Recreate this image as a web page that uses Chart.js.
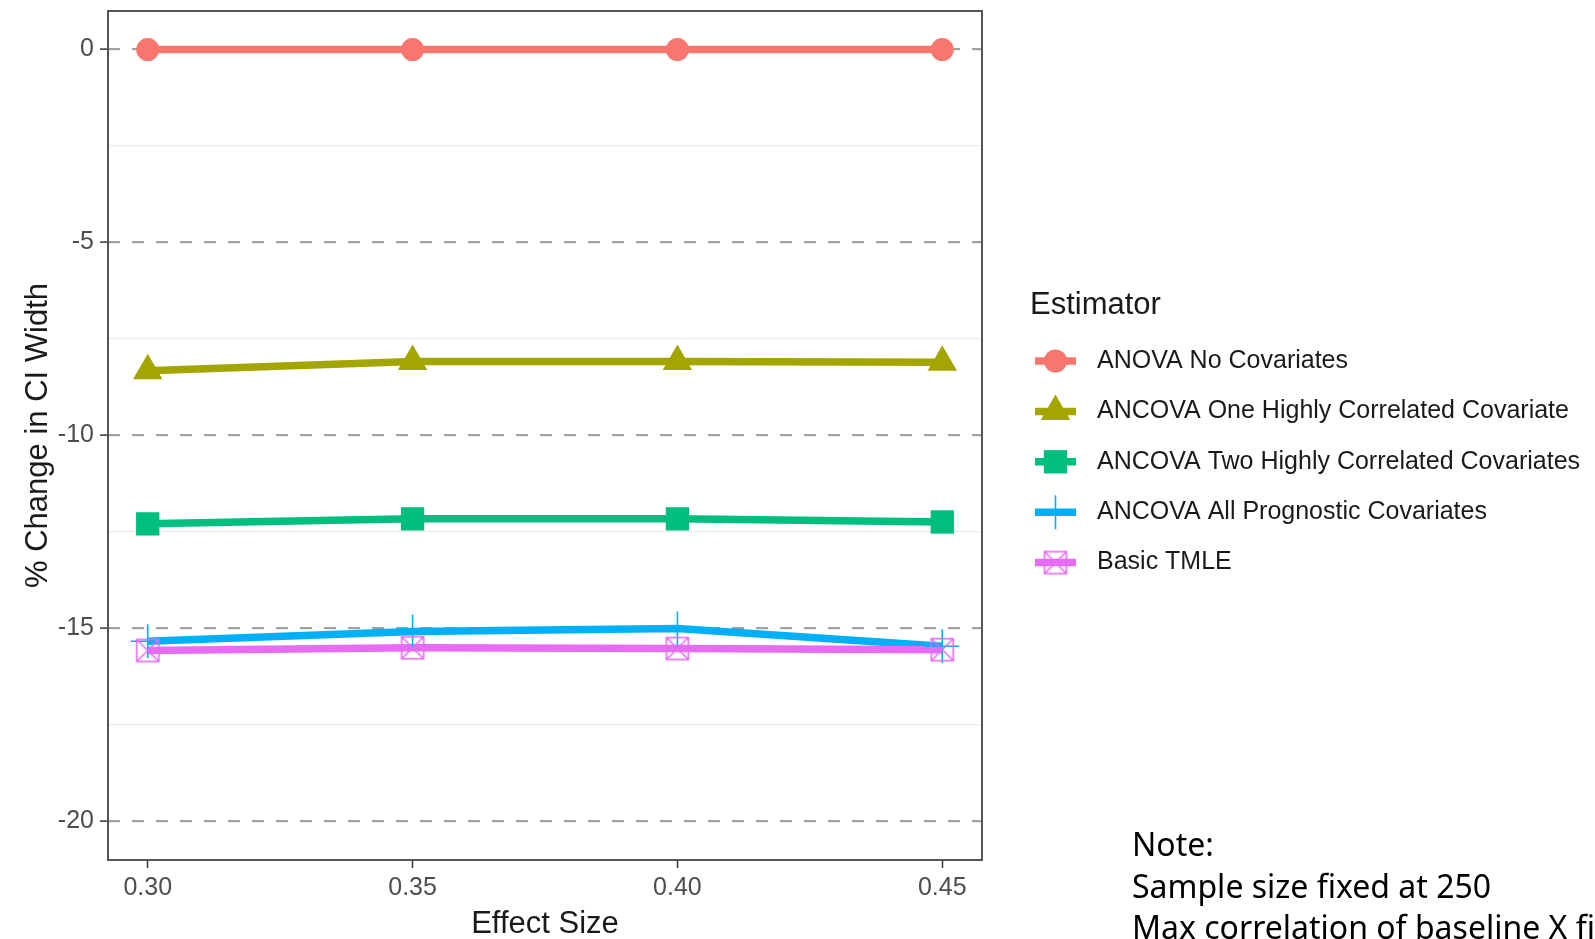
<!DOCTYPE html>
<html>
<head>
<meta charset="utf-8">
<script src="https://cdn.jsdelivr.net/npm/chart.js@4.4.0/dist/chart.umd.min.js"></script>
<style>
  html, body { margin: 0; padding: 0; background: #fff; overflow: hidden; }
  #chart { display: block; }
</style>
</head>
<body>
<canvas id="chart" width="1595" height="939"></canvas>
<script>
// effect sizes on the x axis
const effectSize = [0.30, 0.35, 0.40, 0.45];
const yMajorTicks = [-20, -15, -10, -5, 0];
const yMinorTicks = [-17.5, -12.5, -7.5, -2.5];

const estimators = [
  'ANOVA No Covariates',
  'ANCOVA One Highly Correlated Covariate',
  'ANCOVA Two Highly Correlated Covariates',
  'ANCOVA All Prognostic Covariates',
  'Basic TMLE'
];

// % change in CI width, one array per estimator
const anovaNoCov = [0, 0, 0, 0];
const ancovaOne = [-8.32, -8.08, -8.08, -8.10];
const ancovaTwo = [-12.29, -12.16, -12.16, -12.24];
const ancovaAll = [-15.33, -15.08, -15.00, -15.46];
const basicTmle = [-15.57, -15.50, -15.52, -15.55];

const noteLines = [
  'Note:',
  'Sample size fixed at 250',
  'Max correlation of baseline X fixed'
];

const colors = ['#F8766D', '#A3A500', '#00BF7D', '#00B0F6', '#E76BF3'];
const seriesValues = [anovaNoCov, ancovaOne, ancovaTwo, ancovaAll, basicTmle];

// square with an X through it, for the TMLE points
function boxCross(color) {
  const c = document.createElement('canvas');
  c.width = 26; c.height = 26;
  const g = c.getContext('2d');
  g.strokeStyle = color;
  g.lineWidth = 1.6;
  g.strokeRect(2, 2, 22, 22);
  g.beginPath();
  g.moveTo(2, 2); g.lineTo(24, 24);
  g.moveTo(24, 2); g.lineTo(2, 24);
  g.stroke();
  return c;
}

const markers = [
  { pointStyle: 'circle', radius: 11.5, borderWidth: 0 },
  { pointStyle: 'triangle', radius: 17, borderWidth: 0 },
  { pointStyle: 'rect', radius: 16.5, borderWidth: 0 },
  { pointStyle: 'cross', radius: 17, borderWidth: 1.6 },
  { pointStyle: boxCross(colors[4]), radius: 13, borderWidth: 0 }
];

const toPoints = vals => vals.map((v, i) => ({ x: effectSize[i], y: v }));

// lines first, then every set of points on top
const lineSets = seriesValues.map((vals, i) => ({
  label: estimators[i],
  data: toPoints(vals),
  borderColor: colors[i],
  borderWidth: 7.5,
  pointRadius: 0,
  pointHoverRadius: 0,
  order: 9 - i
}));
const pointSets = seriesValues.map((vals, i) => ({
  label: estimators[i] + ' points',
  data: toPoints(vals),
  showLine: false,
  pointStyle: markers[i].pointStyle,
  pointRadius: markers[i].radius,
  pointHoverRadius: markers[i].radius,
  pointBorderWidth: markers[i].borderWidth,
  pointBackgroundColor: colors[i],
  pointBorderColor: colors[i],
  order: 4 - i
}));

const sansFont = "'Liberation Sans', Arial, sans-serif";

const panelExtras = {
  id: 'panelExtras',
  afterDraw(chart) {
    const ctx = chart.ctx;
    const a = chart.chartArea;
    ctx.save();
    // panel border
    ctx.strokeStyle = '#555';
    ctx.lineWidth = 2;
    ctx.strokeRect(a.left, a.top, a.right - a.left, a.bottom - a.top);

    // legend
    ctx.fillStyle = '#1a1a1a';
    ctx.font = '31px ' + sansFont;
    ctx.textBaseline = 'middle';
    ctx.textAlign = 'left';
    ctx.fillText('Estimator', 1030, 305);

    ctx.font = '25px ' + sansFont;
    estimators.forEach((name, i) => {
      const y = 361 + i * 50.4;
      ctx.strokeStyle = colors[i];
      ctx.lineWidth = 7.5;
      ctx.setLineDash([]);
      ctx.beginPath();
      ctx.moveTo(1035, y);
      ctx.lineTo(1076, y);
      ctx.stroke();
      ctx.fillStyle = colors[i];
      ctx.lineWidth = markers[i].borderWidth;
      Chart.helpers.drawPoint(ctx, {
        pointStyle: markers[i].pointStyle,
        radius: markers[i].radius,
        borderWidth: markers[i].borderWidth,
        rotation: 0
      }, 1055.5, y);
      ctx.fillStyle = '#1a1a1a';
      ctx.fillText(name, 1097, y);
    });

    // note under the legend
    ctx.fillStyle = '#000';
    ctx.font = "32px 'Noto Sans', sans-serif";
    ctx.textBaseline = 'alphabetic';
    noteLines.forEach((t, i) => ctx.fillText(t, 1132, 856 + i * 41.5));
    ctx.restore();
  }
};

new Chart(document.getElementById('chart'), {
  type: 'line',
  data: { datasets: [...lineSets, ...pointSets] },
  plugins: [panelExtras],
  options: {
    responsive: false,
    animation: false,
    events: [],
    layout: { autoPadding: false, padding: { top: 11, right: 613, bottom: 0, left: 0 } },
    plugins: { legend: { display: false }, tooltip: { enabled: false } },
    scales: {
      x: {
        type: 'linear',
        min: 0.2925,
        max: 0.4575,
        afterBuildTicks: s => { s.ticks = effectSize.map(v => ({ value: v })); },
        afterFit: s => { s.height = 79; s.paddingLeft = 0; s.paddingRight = 0; },
        border: { display: false },
        grid: {
          drawOnChartArea: false,
          tickLength: 8,
          tickColor: '#333',
          tickWidth: 1.5
        },
        ticks: {
          color: '#4d4d4d',
          padding: 5,
          maxRotation: 0,
          font: { family: sansFont, size: 25 },
          callback: v => v.toFixed(2)
        },
        title: {
          display: true,
          text: 'Effect Size',
          color: '#1a1a1a',
          font: { family: sansFont, size: 31 },
          padding: { top: 0, bottom: -4 }
        }
      },
      yMinor: {
        type: 'linear',
        position: 'left',
        min: -21,
        max: 1,
        afterBuildTicks: s => { s.ticks = yMinorTicks.map(v => ({ value: v })); },
        afterFit: s => { s.width = 0; s.paddingTop = 0; s.paddingBottom = 0; },
        border: { display: false },
        grid: { color: '#ebebeb', lineWidth: 1.2, drawTicks: false },
        ticks: { display: false }
      },
      y: {
        type: 'linear',
        position: 'left',
        min: -21,
        max: 1,
        afterBuildTicks: s => { s.ticks = yMajorTicks.map(v => ({ value: v })); },
        afterFit: s => { s.width = 108; s.paddingTop = 0; s.paddingBottom = 0; },
        border: { display: false, dash: [12, 12] },
        grid: {
          color: '#a0a0a0',
          lineWidth: 2.2,
          tickLength: 8,
          tickColor: '#333',
          tickWidth: 1.5
        },
        ticks: {
          color: '#4d4d4d',
          padding: 6,
          font: { family: sansFont, size: 25 },
          callback: v => String(v)
        },
        title: {
          display: true,
          text: '% Change in CI Width',
          color: '#1a1a1a',
          font: { family: sansFont, size: 31 },
          padding: { top: 20 }
        }
      }
    }
  }
});
</script>
</body>
</html>
